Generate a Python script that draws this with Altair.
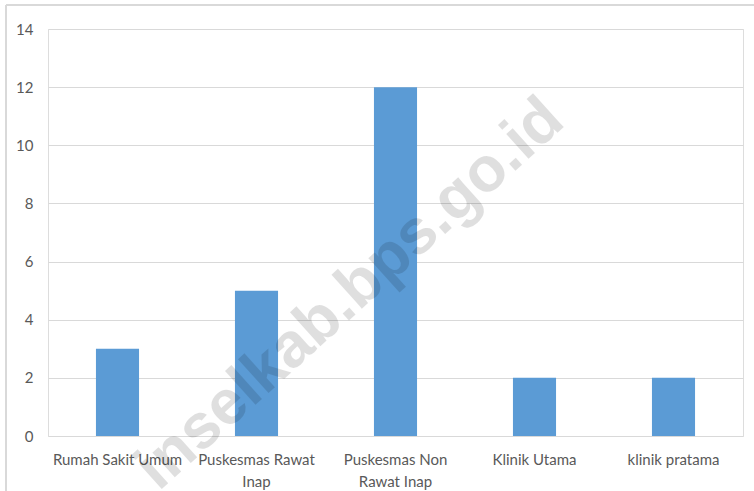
import altair as alt
import pandas as pd

# Number of health facilities by type
categories = [
    "Rumah Sakit Umum",
    "Puskesmas Rawat Inap",
    "Puskesmas Non Rawat Inap",
    "Klinik Utama",
    "klinik pratama",
]
counts = [3, 5, 12, 2, 2]

# Line breaks used for the axis labels
wrapped = {
    "Puskesmas Rawat Inap": ["Puskesmas Rawat", "Inap"],
    "Puskesmas Non Rawat Inap": ["Puskesmas Non", "Rawat Inap"],
}

y_ticks = [0, 2, 4, 6, 8, 10, 12, 14]
watermark = "inselkab.bps.go.id"

df = pd.DataFrame({"kategori": categories, "jumlah": counts})

label_expr = "datum.value"
for name, lines in wrapped.items():
    arr = "[" + ",".join("'" + s + "'" for s in lines) + "]"
    label_expr = f"datum.value == '{name}' ? {arr} : ({label_expr})"

FONT = "Lato, Roboto, sans-serif"
GRID = "#d9d9d9"
TEXT = "#595959"

bars = alt.Chart(df).mark_bar(color="#5B9BD5").encode(
    x=alt.X(
        "kategori:N",
        sort=categories,
        title=None,
        scale=alt.Scale(paddingInner=0.69, paddingOuter=0.345),
        axis=alt.Axis(
            labelAngle=0,
            labelExpr=label_expr,
            labelFont=FONT,
            labelFontSize=15,
            labelColor=TEXT,
            labelPadding=16,
            labelLineHeight=22,
            labelBaseline="top",
            labelLimit=200,
            ticks=False,
            domain=False,
            grid=False,
        ),
    ),
    y=alt.Y(
        "jumlah:Q",
        title=None,
        scale=alt.Scale(domain=[0, 14], nice=False),
        axis=alt.Axis(
            values=y_ticks,
            labelFont=FONT,
            labelFontSize=15,
            labelColor=TEXT,
            labelPadding=15,
            ticks=False,
            domain=False,
            gridColor=GRID,
            gridWidth=1,
        ),
    ),
)

# Outer frame of the chart area (top and left edges)
frame_top = alt.Chart(df).mark_rule(color=GRID, strokeWidth=1.5).encode(
    x=alt.value(-42), x2=alt.value(712), y=alt.value(-24)
)
frame_left = alt.Chart(df).mark_rule(color=GRID, strokeWidth=1.5).encode(
    x=alt.value(-42), y=alt.value(-24), y2=alt.value(470)
)

# Diagonal semi-transparent watermark
wm = alt.Chart(pd.DataFrame({"t": [watermark]})).mark_text(
    font="Liberation Sans, Arial, sans-serif",
    fontWeight="bold",
    fontSize=63,
    angle=318,
    align="center",
    baseline="middle",
    color="#000000",
    opacity=0.12,
).encode(text="t:N", x=alt.value(302), y=alt.value(265))

chart = (
    alt.layer(frame_top, frame_left, bars, wm)
    .properties(
        width=695,
        height=407,
        autosize=alt.AutoSizeParams(type="none"),
        padding={"left": 48, "top": 29, "right": 11, "bottom": 55},
    )
    .configure_view(stroke=None)
    .configure(background="white")
)

chart.save("out.html", embed_options={"renderer": "svg", "actions": False})
